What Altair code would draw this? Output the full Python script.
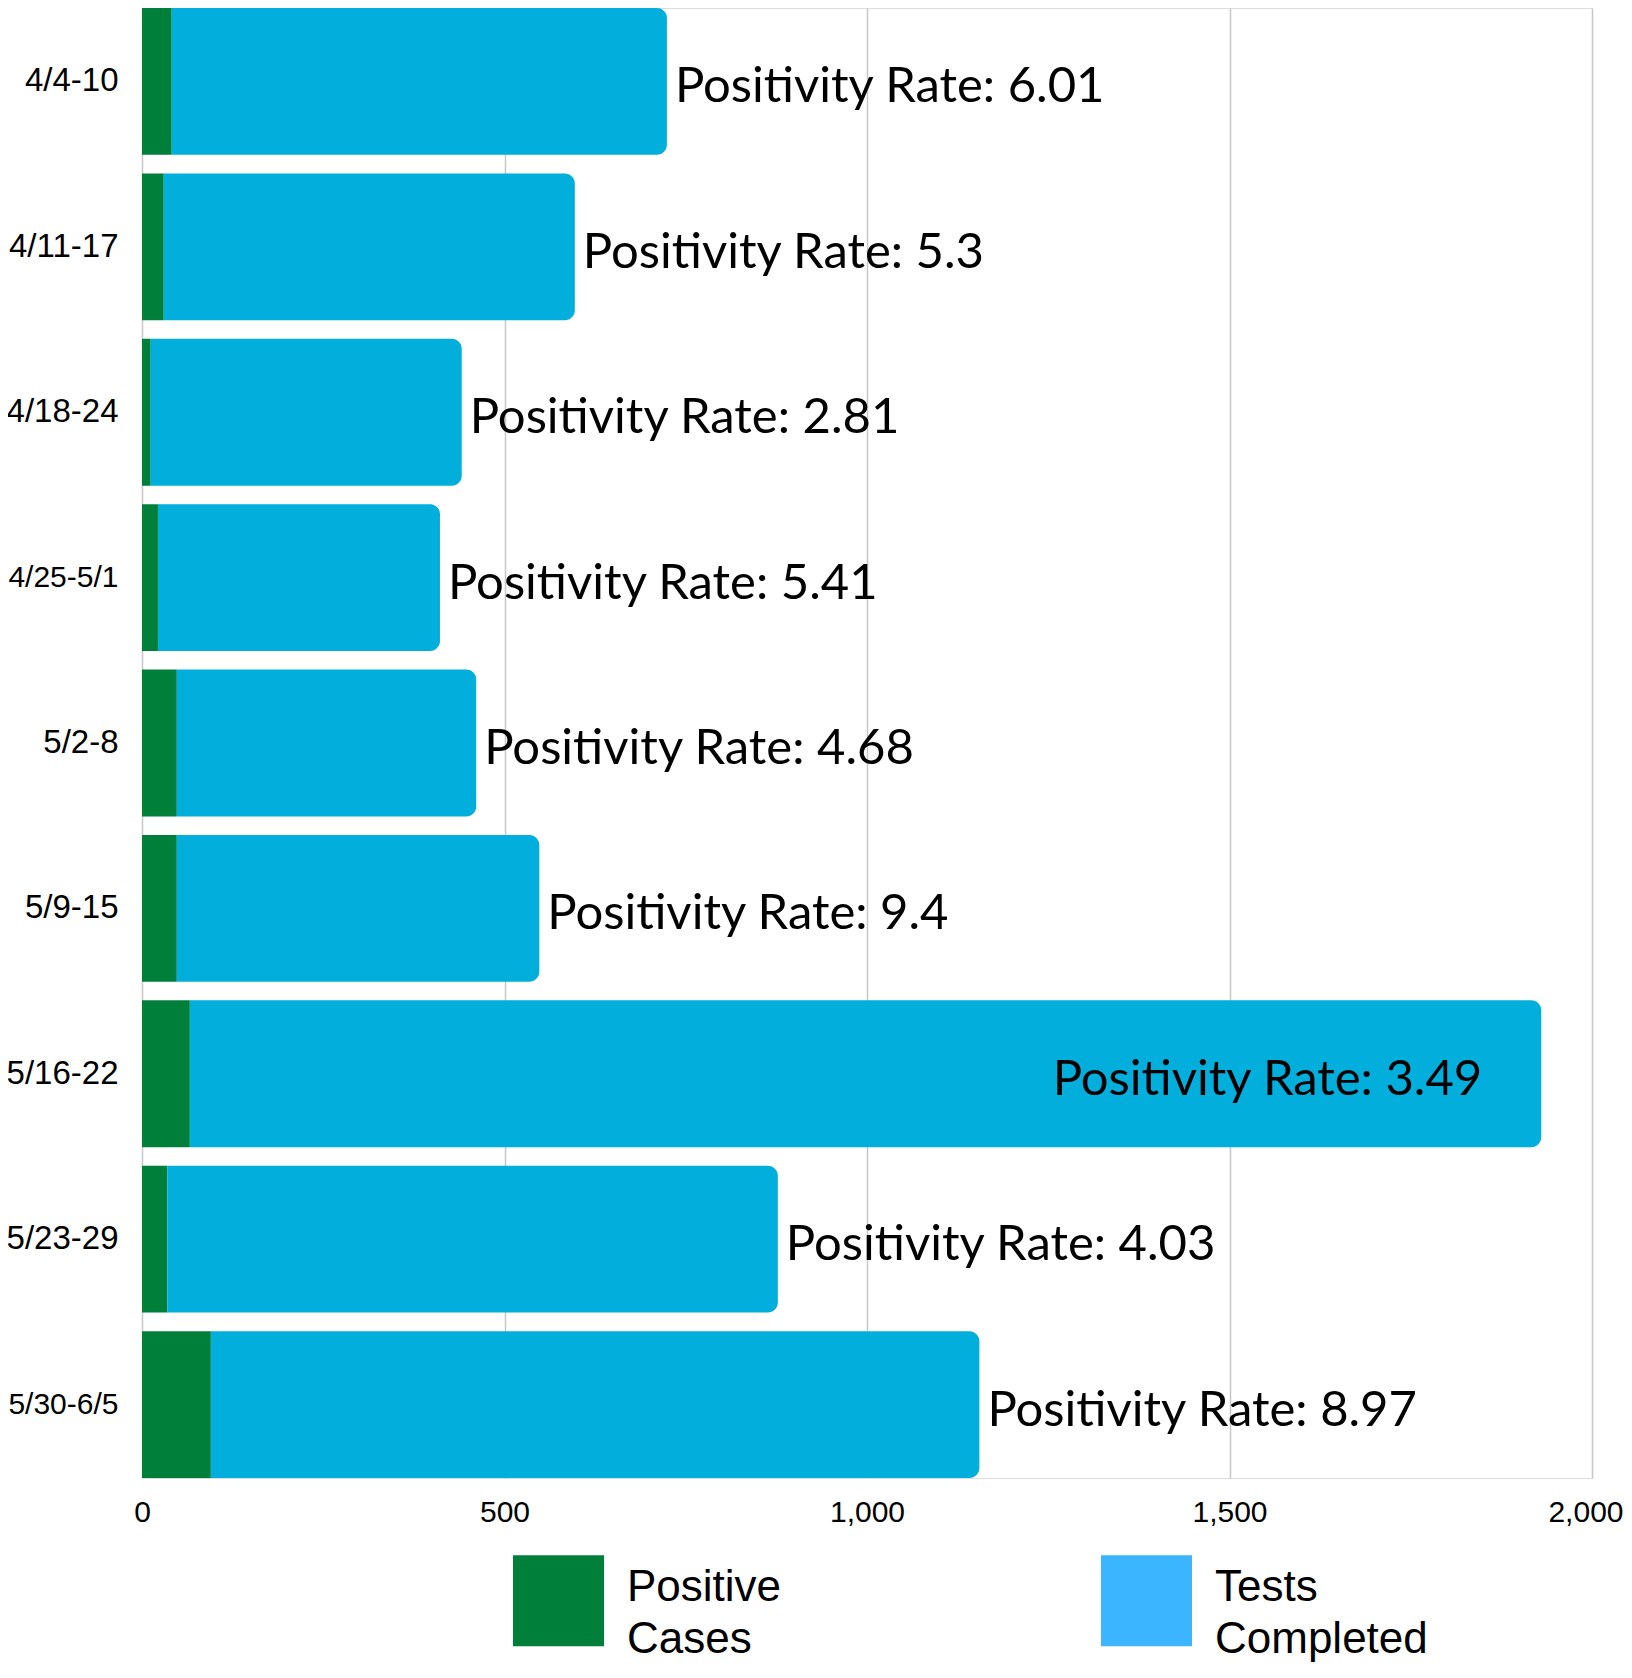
import altair as alt
import pandas as pd

# ---- data ----
weeks = ["4/4-10", "4/11-17", "4/18-24", "4/25-5/1", "5/2-8",
         "5/9-15", "5/16-22", "5/23-29", "5/30-6/5"]
positive_cases = [41, 30, 12, 22, 48, 48, 66, 35, 95]
tests_completed = [683, 567, 429, 389, 413, 500, 1864, 842, 1060]
positivity_rate = [6.01, 5.3, 2.81, 5.41, 4.68, 9.4, 3.49, 4.03, 8.97]
series_names = ["Positive Cases", "Tests Completed"]
x_ticks = [0, 500, 1000, 1500, 2000]

GREEN = "#007F3A"
BAR_BLUE = "#02AEDC"
LEGEND_BLUE = "#3BB5FF"

rows = []
label_rows = []
for w, p, t, r in zip(weeks, positive_cases, tests_completed, positivity_rate):
    rows.append(dict(week=w, series=series_names[0], start=0, end=p))
    rows.append(dict(week=w, series=series_names[1], start=p, end=p + t))
    label_rows.append(dict(week=w, total=p + t, label=f"Positivity Rate: {r}"))
df = pd.DataFrame(rows)
ldf = pd.DataFrame(label_rows)
legend_df = pd.DataFrame({"series": series_names})

y_enc = alt.Y(
    "week:N", sort=weeks,
    scale=alt.Scale(paddingInner=0.112, paddingOuter=0),
    axis=alt.Axis(title=None, labelFont="Liberation Sans",
                  labelFontSize={"condition": {"test": "length(datum.label) > 7", "value": 30}, "value": 33},
                  labelColor="#000000", labelPadding=24, ticks=False,
                  domain=False, grid=False),
)
x_scale = alt.Scale(domain=[0, 2000], nice=False)
last_tick = f"datum.value == {x_ticks[-1]}"
x_enc = alt.X(
    "start:Q", scale=x_scale,
    axis=alt.Axis(values=x_ticks, format=",d", title=None, grid=True,
                  gridColor="#C8C8C8", gridWidth=1.5, ticks=False, domain=False,
                  labelFont="Liberation Sans", labelFontSize=30,
                  labelColor="#000000", labelPadding=19,
                  labelAlign={"condition": {"test": last_tick, "value": "right"}, "value": "center"},
                  labelOffset={"condition": {"test": last_tick, "value": 31}, "value": 0}),
)
color_enc = alt.Color(
    "series:N",
    scale=alt.Scale(domain=series_names, range=[GREEN, BAR_BLUE]),
    legend=None,
)

base = alt.Chart(df)
green = base.transform_filter(alt.datum.series == series_names[0]).mark_bar().encode(
    y=y_enc, x=x_enc, x2="end:Q", color=color_enc)
blue = base.transform_filter(alt.datum.series == series_names[1]).mark_bar(
    cornerRadiusTopRight=10, cornerRadiusBottomRight=10).encode(
    y=y_enc, x=x_enc, x2="end:Q", color=color_enc)

lbase = alt.Chart(ldf)
txt_out = lbase.transform_filter(alt.datum.total < 1500).mark_text(
    align="left", baseline="middle", dx=8, dy=6, font="Lato", fontSize=49,
    color="#000000").encode(
    y=alt.Y("week:N", sort=weeks), x=alt.X("total:Q", scale=x_scale), text="label:N")
txt_in = lbase.transform_filter(alt.datum.total >= 1500).mark_text(
    align="right", baseline="middle", dx=-59, dy=6, font="Lato", fontSize=49,
    color="#000000").encode(
    y=alt.Y("week:N", sort=weeks), x=alt.X("total:Q", scale=x_scale), text="label:N")

legend_layer = alt.Chart(legend_df).mark_square(opacity=0).encode(
    color=alt.Color(
        "series:N",
        scale=alt.Scale(domain=series_names, range=[GREEN, LEGEND_BLUE]),
        legend=alt.Legend(
            orient="bottom", direction="horizontal", offset=28,
            title=" ", titleOrient="left", titleFontSize=1, titlePadding=371,
            symbolType="square", symbolSize=8281, symbolStrokeWidth=0,
            symbolOpacity=1, labelFont="Liberation Sans", labelFontSize=44,
            labelColor="#000000", labelOffset=23, labelBaseline="alphabetic",
            labelExpr="split(datum.label, ' ')", labelLimit=500,
            columnPadding=319, padding=0,
        ),
    )
)

chart = alt.layer(green, blue, txt_out, txt_in, legend_layer).resolve_scale(
    color="independent"
).properties(
    width=1450, height=1470,
    padding={"left": 134, "top": 0, "right": 32, "bottom": 186},
    autosize=alt.AutoSizeParams(type="none"),
).configure_view(stroke=None).configure(
    background="white",
    style={"guide-label": {"lineHeight": 52}},
)

chart.save("out.html", embed_options={"renderer": "svg", "actions": False})
